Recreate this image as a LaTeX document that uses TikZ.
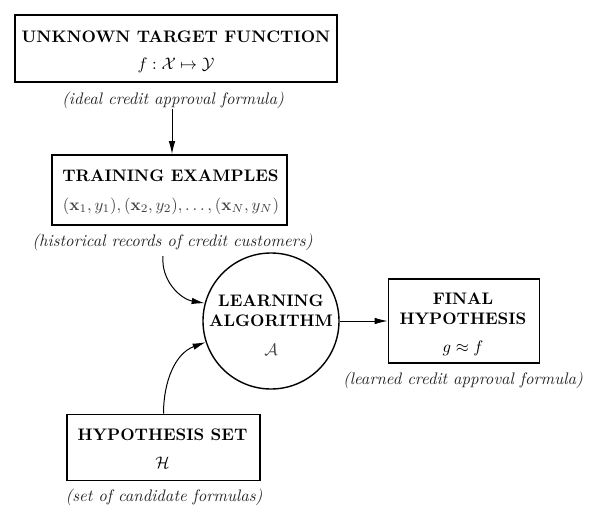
\documentclass[tikz,border=0pt]{standalone}
\usepackage{graphicx}
\usetikzlibrary{arrows.meta}
\newcommand{\bigtext}[1]{\scalebox{1.67}{#1}}
\begin{document}
\begin{tikzpicture}[x=1pt,y=-1pt,
  every node/.style={inner sep=0pt},
  box/.style={draw, line width=1.6pt},
  circ/.style={draw, circle, line width=1.4pt},
  txt/.style={anchor=base},
  captext/.style={anchor=base, text=black!85},
  conn/.style={line width=1pt, -{Latex[length=13pt,width=6.5pt]}}]
\useasboundingbox (0,0) rectangle (590,520);
% shapes
\node[box, minimum width=322pt, minimum height=67pt] (target) at (176,48.5) {};
\node[box, minimum width=235pt, minimum height=70pt] (train) at (169.5,190) {};
\node[circ, minimum size=136pt] (alg) at (271,321) {};
\node[box, minimum width=151pt, minimum height=84pt] (final) at (464,321) {};
\node[box, minimum width=193pt, minimum height=66pt] (hset) at (163.5,447.5) {};
% texts
\node[txt] (t1a) at (176,42.5) {\bigtext{\bfseries UNKNOWN TARGET FUNCTION}};
\node[txt] (t1b) at (176,69.5) {\bigtext{$f:\mathcal{X}\mapsto\mathcal{Y}$}};
\node[captext] (cap1) at (173,104) {\bigtext{\itshape (ideal credit approval formula)}};
\node[txt] (t2a) at (170.5,181.5) {\bigtext{\bfseries TRAINING EXAMPLES}};
\node[txt, text=black!75] (t2b) at (171,210) {\bigtext{$(\mathbf{x}_1,y_1),(\mathbf{x}_2,y_2),\ldots,(\mathbf{x}_N,y_N)$}};
\node[captext] (cap2) at (172.5,246) {\bigtext{\itshape (historical records of credit customers)}};
\node[txt] (t3a) at (271,306) {\bigtext{\bfseries LEARNING}};
\node[txt] (t3b) at (271,326.5) {\bigtext{\bfseries ALGORITHM}};
\node[txt, text=black!75] (t3c) at (271,355) {\bigtext{$\mathcal{A}$}};
\node[txt] (t4a) at (463,304) {\bigtext{\bfseries FINAL}};
\node[txt] (t4b) at (463,324) {\bigtext{\bfseries HYPOTHESIS}};
\node[txt] (t4c) at (463,352) {\bigtext{$g\approx f$}};
\node[captext] (cap3) at (463,384) {\bigtext{\itshape (learned credit approval formula)}};
\node[txt] (t5a) at (162.5,440) {\bigtext{\bfseries HYPOTHESIS SET}};
\node[txt] (t5b) at (162.5,468) {\bigtext{$\mathcal{H}$}};
\node[captext] (cap4) at (164,501) {\bigtext{\itshape (set of candidate formulas)}};
% connectors
\coordinate (s1) at (172,109);
\coordinate (s2) at (163,256);
\draw[conn] (s1) -- (s1 |- train.north);
\draw[conn] (s2) to[out=-95, in=170] (alg.165);
\draw[conn] (hset.north) to[out=90, in=200] (alg.198);
\draw[conn] (alg.east) -- (final.west);
\end{tikzpicture}
\end{document}
